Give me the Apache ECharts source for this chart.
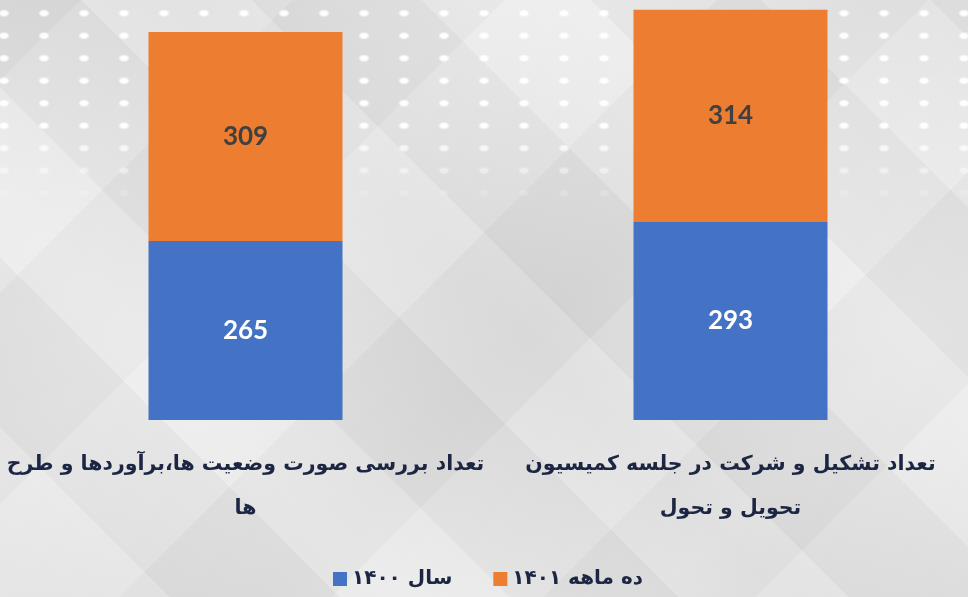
<!DOCTYPE html>
<html lang="fa">
<head>
<meta charset="utf-8">
<script src="https://cdn.jsdelivr.net/npm/echarts@6/dist/echarts.min.js"></script>
<style>
  html, body { margin: 0; padding: 0; }
  body {
    width: 968px; height: 597px; overflow: hidden; position: relative;
    background-color: #e2e2e2;
    background-image:
      linear-gradient(135deg, rgba(255,255,255,0.00) 0%, rgba(255,255,255,0.25) 30%, rgba(255,255,255,0.0) 55%, rgba(255,255,255,0.22) 80%, rgba(255,255,255,0.0) 100%),
      linear-gradient(45deg, rgba(0,0,0,0.03) 0%, rgba(255,255,255,0.18) 25%, rgba(0,0,0,0.04) 50%, rgba(255,255,255,0.18) 75%, rgba(0,0,0,0.02) 100%);
  }
  /* soft diamond facets */
  .facets {
    position: absolute; inset: 0;
    background-image:
      repeating-linear-gradient(45deg, rgba(255,255,255,0.09) 0 120px, rgba(0,0,0,0.025) 120px 240px),
      repeating-linear-gradient(-45deg, rgba(255,255,255,0.08) 0 150px, rgba(0,0,0,0.02) 150px 300px);
  }
  /* dotted band across the top */
  .dots {
    position: absolute; left: 0; top: 0; width: 968px; height: 210px;
    background-image: radial-gradient(ellipse 6px 4px at center, rgba(255,255,255,0.95) 55%, rgba(255,255,255,0) 100%);
    background-size: 40px 22.5px;
    background-position: -16px 2px;
    -webkit-mask-image: linear-gradient(to bottom, #000 0%, #000 60%, transparent 100%);
    mask-image: linear-gradient(to bottom, #000 0%, #000 60%, transparent 100%);
  }
  #chart { position: absolute; left: 0; top: 0; width: 980px; height: 597px; }
</style>
</head>
<body>
<div class="facets"></div>
<div class="dots"></div>
<div id="chart"></div>
<script>
// Category labels (already split into display lines)
const categories = [
  'تعداد بررسی صورت وضعیت ها،برآوردها و طرح\nها',
  'تعداد تشکیل و شرکت در جلسه کمیسیون\nتحویل و تحول'
];
const seriesNames = ['سال ۱۴۰۰', 'ده ماهه ۱۴۰۱'];
const values1400 = [265, 293];
const values1401 = [309, 314];

const chart = echarts.init(document.getElementById('chart'), null, { renderer: 'canvas' });

const arabicFont = '"DejaVu Sans", "Noto Sans", sans-serif';
const numberFont = 'Lato, "Open Sans", sans-serif';
const textColor = '#1c2643';

chart.setOption({
  backgroundColor: 'transparent',
  animation: false,
  grid: { left: 3, width: 970, top: 1, bottom: 177 },
  legend: {
    data: seriesNames,
    left: 328,
    bottom: 3,
    itemWidth: 14,
    itemHeight: 14,
    itemGap: 41,
    icon: 'rect',
    textStyle: { color: textColor, fontSize: 20, fontWeight: 'bold', fontFamily: arabicFont }
  },
  xAxis: {
    type: 'category',
    data: categories,
    axisLine: { show: false },
    axisTick: { show: false },
    axisLabel: {
      interval: 0,
      margin: 23,
      color: textColor,
      fontSize: 20.5,
      fontWeight: 'bold',
      fontFamily: arabicFont,
      lineHeight: 44,
      align: 'center'
    }
  },
  yAxis: {
    type: 'value',
    min: 0,
    max: 620,
    show: false,
    splitLine: { show: false }
  },
  series: [
    {
      name: seriesNames[0],
      type: 'bar',
      stack: 'total',
      barWidth: 194,
      data: values1400,
      itemStyle: { color: '#4472c4' },
      label: {
        show: true, position: 'inside',
        color: '#ffffff', fontSize: 26, fontWeight: 'bold', fontFamily: numberFont
      }
    },
    {
      name: seriesNames[1],
      type: 'bar',
      stack: 'total',
      barWidth: 194,
      data: values1401,
      itemStyle: { color: '#ed7d31' },
      label: {
        show: true, position: 'inside',
        color: '#404040', fontSize: 26, fontWeight: 'bold', fontFamily: numberFont
      }
    }
  ]
});
</script>
</body>
</html>
